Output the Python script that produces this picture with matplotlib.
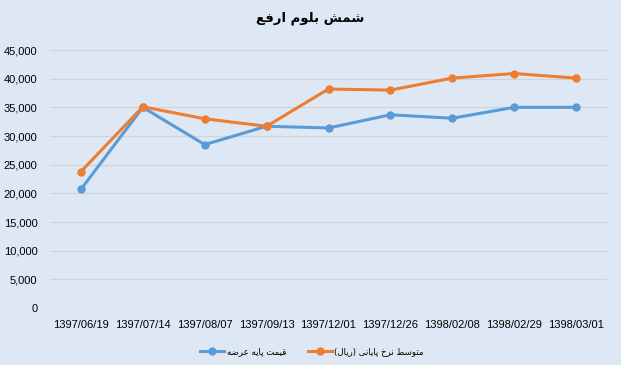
import matplotlib
matplotlib.use("Agg")
import matplotlib.pyplot as plt

# ---- data ----
dates = ["1397/06/19", "1397/07/14", "1397/08/07", "1397/09/13", "1397/12/01",
         "1397/12/26", "1398/02/08", "1398/02/29", "1398/03/01"]
base_price = [20700, 35000, 28500, 31700, 31400, 33700, 33100, 35000, 35000]
avg_final = [23800, 35100, 33000, 31700, 38200, 38000, 40100, 40900, 40100]
title_text = "شمش بلوم ارفع"
label_base = "قیمت پایه عرضه"
label_avg = "متوسط نرخ پایانی (ریال)"
yticks = list(range(0, 45001, 5000))

# ---- minimal Persian shaping (presentation forms, visual order) ----
FORMS = {
    'ا': ('\uFE8D', '\uFE8E', None, None),
    'ب': ('\uFE8F', '\uFE90', '\uFE91', '\uFE92'),
    'پ': ('\uFB56', '\uFB57', '\uFB58', '\uFB59'),
    'ت': ('\uFE95', '\uFE96', '\uFE97', '\uFE98'),
    'خ': ('\uFEA5', '\uFEA6', '\uFEA7', '\uFEA8'),
    'ر': ('\uFEAD', '\uFEAE', None, None),
    'س': ('\uFEB1', '\uFEB2', '\uFEB3', '\uFEB4'),
    'ش': ('\uFEB5', '\uFEB6', '\uFEB7', '\uFEB8'),
    'ض': ('\uFEBD', '\uFEBE', '\uFEBF', '\uFEC0'),
    'ط': ('\uFEC1', '\uFEC2', '\uFEC3', '\uFEC4'),
    'ع': ('\uFEC9', '\uFECA', '\uFECB', '\uFECC'),
    'ف': ('\uFED1', '\uFED2', '\uFED3', '\uFED4'),
    'ق': ('\uFED5', '\uFED6', '\uFED7', '\uFED8'),
    'ل': ('\uFEDD', '\uFEDE', '\uFEDF', '\uFEE0'),
    'م': ('\uFEE1', '\uFEE2', '\uFEE3', '\uFEE4'),
    'ن': ('\uFEE5', '\uFEE6', '\uFEE7', '\uFEE8'),
    'ه': ('\uFEE9', '\uFEEA', '\uFEEB', '\uFEEC'),
    'و': ('\uFEED', '\uFEEE', None, None),
    'ی': ('\uFBFC', '\uFBFD', '\uFBFE', '\uFBFF'),
}


def shape(text):
    out = []
    for i, c in enumerate(text):
        if c not in FORMS:
            out.append(c)
            continue
        prev = text[i - 1] if i > 0 else None
        nxt = text[i + 1] if i + 1 < len(text) else None
        jp = prev in FORMS and FORMS[prev][2] is not None
        jn = nxt in FORMS and FORMS[c][2] is not None
        iso, fin, ini, med = FORMS[c]
        if jp and jn:
            out.append(med)
        elif jp:
            out.append(fin)
        elif jn:
            out.append(ini)
        else:
            out.append(iso)
    s = "".join(out)[::-1]
    return s.translate(str.maketrans("()", ")("))


BG = "#DEE8F4"
BLUE = "#5B9BD5"
ORANGE = "#ED7D31"
GRID = "#D0D3D6"

fig = plt.figure(figsize=(6.21, 3.65), dpi=100, facecolor=BG)
ax = fig.add_axes([50 / 621, 1 - 308 / 365, 557 / 621, 258 / 365], facecolor=BG)

x = list(range(len(dates)))
ax.plot(x, base_price, color=BLUE, lw=2.2, marker="o", ms=5, label=shape(label_base))
ax.plot(x, avg_final, color=ORANGE, lw=2.2, marker="o", ms=5, label=shape(label_avg))

ax.set_xlim(-0.5, len(dates) - 0.5)
ax.set_ylim(0, 45000)
ax.set_yticks(yticks)
ax.set_yticklabels([f"{v:,}" for v in yticks], fontfamily="Liberation Sans", fontsize=8)
ax.set_xticks(x)
ax.set_xticklabels(dates, fontfamily="Liberation Sans", fontsize=8)
ax.tick_params(axis="both", length=0, colors="#000000")
ax.tick_params(axis="y", pad=9)
ax.tick_params(axis="x", pad=9)
ax.grid(axis="y", color=GRID, lw=0.9)
ax.set_axisbelow(True)
for s in ax.spines.values():
    s.set_visible(False)

fig.text(310 / 621, 1 - 18 / 365, shape(title_text), ha="center", va="center",
         fontsize=9.5, fontweight="bold", family=["DejaVu Sans"])

leg = fig.legend(loc="center", bbox_to_anchor=(312 / 621, 1 - 352 / 365), ncol=2,
                 frameon=False, prop={"family": ["DejaVu Sans"], "size": 6.2},
                 handlelength=2.8, columnspacing=2.5, handletextpad=0.3)

fig.savefig("out.png", dpi=100, facecolor=BG)
